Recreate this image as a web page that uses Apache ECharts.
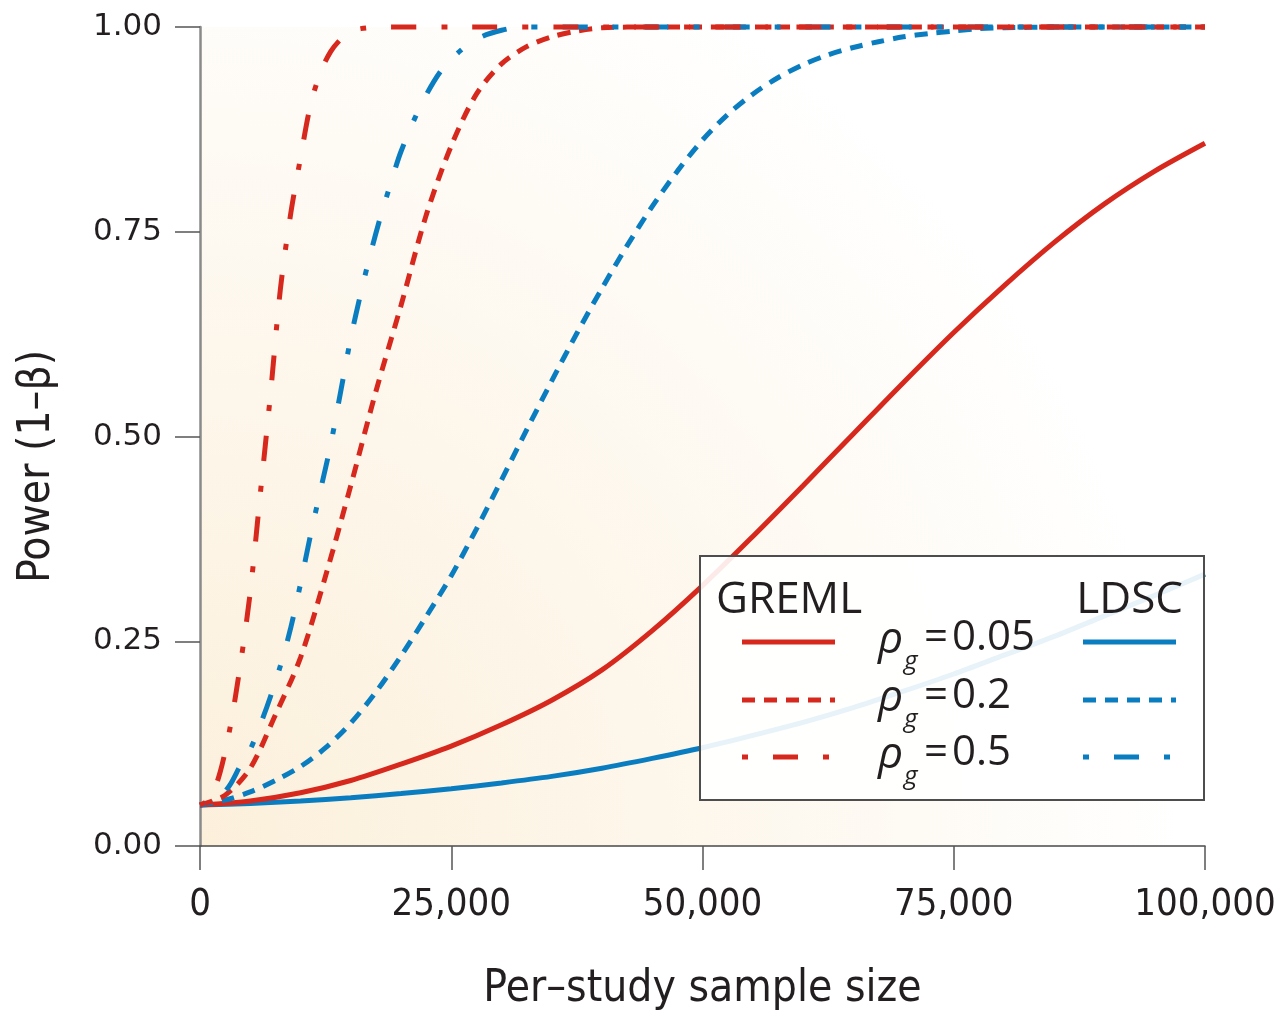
<!DOCTYPE html>
<html>
<head>
<meta charset="utf-8">
<script src="https://cdn.jsdelivr.net/npm/echarts@6/dist/echarts.min.js"></script>
<style>
  html, body { margin: 0; padding: 0; background: #ffffff; }
  #chart { width: 1280px; height: 1010px; }
</style>
</head>
<body>
<div id="chart"></div>
<script>
// Axis ticks
const xTicks = [0, 25000, 50000, 75000, 100000];
const yTicks = [0, 0.25, 0.5, 0.75, 1];

// Statistical power vs per-study sample size, [N, power]
// GREML, rho_g = 0.05
const gremlRho005 = [
  [0, 0.050], [5000, 0.055], [10000, 0.065], [15000, 0.080], [20000, 0.100],
  [25000, 0.122], [30000, 0.148], [35000, 0.178], [40000, 0.215], [45000, 0.263],
  [50000, 0.318], [55000, 0.378], [60000, 0.440], [65000, 0.503], [70000, 0.566],
  [75000, 0.627], [80000, 0.684], [85000, 0.737], [90000, 0.784], [95000, 0.824],
  [100000, 0.858]
];
// GREML, rho_g = 0.2
const gremlRho02 = [
  [0, 0.050], [2500, 0.062], [5000, 0.095], [7500, 0.160], [10000, 0.230],
  [12500, 0.330], [15000, 0.440], [17500, 0.555], [20000, 0.660], [22500, 0.770],
  [25000, 0.855], [27500, 0.918], [30000, 0.955], [32500, 0.976], [35000, 0.988],
  [37500, 0.995], [40000, 0.999], [45000, 1.000], [50000, 1.000], [60000, 1.000],
  [70000, 1.000], [80000, 1.000], [90000, 1.000], [100000, 1.000]
];
// GREML, rho_g = 0.5
const gremlRho05 = [
  [0, 0.050], [1000, 0.058], [2000, 0.090], [3000, 0.145], [4000, 0.220],
  [5000, 0.310], [6000, 0.430], [7000, 0.550], [8000, 0.680], [9000, 0.770],
  [10000, 0.840], [11000, 0.905], [12000, 0.945], [13000, 0.970], [14000, 0.985],
  [15000, 0.994], [16000, 0.998], [18000, 1.000], [25000, 1.000], [40000, 1.000],
  [60000, 1.000], [80000, 1.000], [100000, 1.000]
];
// LDSC, rho_g = 0.05
const ldscRho005 = [
  [0, 0.050], [5000, 0.052], [10000, 0.055], [15000, 0.059], [20000, 0.064],
  [25000, 0.070], [30000, 0.077], [35000, 0.085], [40000, 0.095], [45000, 0.107],
  [50000, 0.120], [55000, 0.135], [60000, 0.151], [65000, 0.169], [70000, 0.189],
  [75000, 0.210], [80000, 0.233], [85000, 0.256], [90000, 0.281], [95000, 0.306],
  [100000, 0.332]
];
// LDSC, rho_g = 0.2
const ldscRho02 = [
  [0, 0.050], [2500, 0.056], [5000, 0.066], [7500, 0.080], [10000, 0.097],
  [12500, 0.120], [15000, 0.150], [17500, 0.188], [20000, 0.232], [22500, 0.280],
  [25000, 0.330], [27500, 0.387], [30000, 0.447], [32500, 0.508], [35000, 0.568],
  [37500, 0.626], [40000, 0.681], [42500, 0.733], [45000, 0.781], [47500, 0.824],
  [50000, 0.862], [52500, 0.893], [55000, 0.918], [57500, 0.938], [60000, 0.954],
  [62500, 0.966], [65000, 0.975], [67500, 0.982], [70000, 0.988], [72500, 0.992],
  [75000, 0.995], [77500, 0.998], [80000, 0.999], [85000, 1.000], [90000, 1.000],
  [100000, 1.000]
];
// LDSC, rho_g = 0.5
const ldscRho05 = [
  [0, 0.050], [1000, 0.053], [2000, 0.060], [3000, 0.075], [4000, 0.098],
  [5000, 0.118], [6000, 0.148], [7000, 0.182], [8000, 0.220], [9000, 0.265],
  [10000, 0.320], [11000, 0.380], [12000, 0.435], [13000, 0.490], [14000, 0.555],
  [15000, 0.620], [16000, 0.675], [17000, 0.725], [18000, 0.770], [19000, 0.810],
  [20000, 0.848], [22000, 0.905], [24000, 0.947], [26000, 0.972], [28000, 0.988],
  [30000, 0.996], [32000, 1.000], [40000, 1.000], [60000, 1.000], [80000, 1.000],
  [100000, 1.000]
];

const legendRows = ['0.05', '0.2', '0.5'];

const RED = '#d7281d';
const BLUE = '#0a7dc0';
const INK = '#231f20';
const NARROW = '"Liberation Sans Narrow", "DejaVu Sans Condensed", sans-serif';
const SANS = '"Open Sans", "Noto Sans", sans-serif';

const DASH = [13, 9];
const DASH_DOT = [6, 25, 25, 25];

function curve(name, data, color, dash) {
  return {
    name: name,
    type: 'line',
    data: data,
    showSymbol: false,
    symbol: 'none',
    smooth: 0.3,
    clip: false,
    lineStyle: { color: color, width: 5, type: dash || 'solid', cap: 'butt' },
    emphasis: { disabled: true },
    silent: true,
    z: 3
  };
}

const chart = echarts.init(document.getElementById('chart'), null, { renderer: 'canvas' });

// Legend box: two sample columns (GREML | LDSC) sharing the rho_g labels
const LX = 700, LY = 556, LW = 504, LH = 244;
const rowY = [642, 700, 757];
const dashes = ['solid', DASH, DASH_DOT];
const legendGraphics = [
  {
    type: 'rect', z: 100,
    shape: { x: LX, y: LY, width: LW, height: LH },
    style: { fill: 'rgba(255,255,255,0.9)', stroke: '#4d4d4d', lineWidth: 2 }
  },
  {
    type: 'text', z: 101, x: 716, y: 600,
    style: { text: 'GREML', font: '44px ' + SANS, fill: INK, align: 'left', verticalAlign: 'middle' }
  },
  {
    type: 'text', z: 101, x: 1183, y: 600,
    style: { text: 'LDSC', font: '44px ' + SANS, fill: INK, align: 'right', verticalAlign: 'middle' }
  }
];
legendRows.forEach(function (label, i) {
  const y = rowY[i];
  const dash = dashes[i] === 'solid' ? null : dashes[i];
  legendGraphics.push(
    {
      type: 'line', z: 101,
      shape: { x1: 742, y1: y, x2: 835, y2: y },
      style: { stroke: RED, lineWidth: 5, lineDash: dash, lineCap: 'butt' }
    },
    {
      type: 'line', z: 101,
      shape: { x1: 1083, y1: y, x2: 1176, y2: y },
      style: { stroke: BLUE, lineWidth: 5, lineDash: dash, lineCap: 'butt' }
    },
    {
      type: 'text', z: 101, x: 878, y: y - 2,
      style: { text: 'ρ', font: 'italic 44px ' + SANS, fill: INK, align: 'left', verticalAlign: 'middle' }
    },
    {
      type: 'text', z: 101, x: 904, y: y + 20,
      style: { text: 'g', font: 'italic 26px ' + SANS, fill: INK, align: 'left', verticalAlign: 'middle' }
    },
    {
      type: 'text', z: 101, x: 924, y: y - 4,
      style: { text: '=', font: '42px ' + SANS, fill: INK, align: 'left', verticalAlign: 'middle' }
    },
    {
      type: 'text', z: 101, x: 952, y: y - 4,
      style: { text: label, font: '42px ' + SANS, fill: INK, align: 'left', verticalAlign: 'middle' }
    }
  );
});

const option = {
  backgroundColor: '#ffffff',
  animation: false,
  grid: {
    left: 200, right: 75, top: 27, bottom: 164,
    outerBoundsMode: 'none',
    containLabel: false,
    show: true,
    borderWidth: 0,
    backgroundColor: new echarts.graphic.RadialGradient(0, 1, 1.2, [
      { offset: 0, color: '#fcf0db' },
      { offset: 0.45, color: '#fdf6ea' },
      { offset: 1, color: '#ffffff' }
    ])
  },
  xAxis: {
    type: 'value',
    min: xTicks[0], max: xTicks[xTicks.length - 1], interval: 25000,
    name: 'Per–study sample size',
    nameLocation: 'middle',
    nameGap: 122,
    nameTextStyle: { fontFamily: NARROW, fontSize: 44, color: INK },
    axisLine: { show: true, onZero: false, lineStyle: { color: '#4a4a4a', width: 1.5 } },
    axisTick: { show: true, inside: false, length: 24, lineStyle: { color: '#555555', width: 1.5 } },
    axisLabel: {
      margin: 40, fontFamily: NARROW, fontSize: 38, color: INK,
      formatter: function (v) { return v.toLocaleString('en-US'); }
    },
    splitLine: { show: false }
  },
  yAxis: {
    type: 'value',
    min: yTicks[0], max: yTicks[yTicks.length - 1], interval: 0.25,
    name: 'Power (1–β)',
    nameLocation: 'middle',
    nameGap: 140,
    nameRotate: 90,
    nameTextStyle: { fontFamily: NARROW, fontSize: 44, color: INK, padding: [0, 60, 0, 0] },
    axisLine: { show: true, lineStyle: { color: '#8a8a8a', width: 2.5 } },
    axisTick: { show: true, inside: false, length: 25, lineStyle: { color: '#555555', width: 1.5 } },
    axisLabel: {
      margin: 38, fontFamily: '"DejaVu Sans", sans-serif', fontSize: 31, color: INK,
      formatter: function (v) { return v.toFixed(2); }
    },
    splitLine: { show: false }
  },
  series: [
    curve('LDSC ρg=0.05', ldscRho005, BLUE),
    curve('GREML ρg=0.05', gremlRho005, RED),
    curve('LDSC ρg=0.2', ldscRho02, BLUE, DASH),
    curve('GREML ρg=0.2', gremlRho02, RED, DASH),
    curve('LDSC ρg=0.5', ldscRho05, BLUE, DASH_DOT),
    curve('GREML ρg=0.5', gremlRho05, RED, DASH_DOT)
  ],
  graphic: legendGraphics
};

chart.setOption(option);
</script>
</body>
</html>
